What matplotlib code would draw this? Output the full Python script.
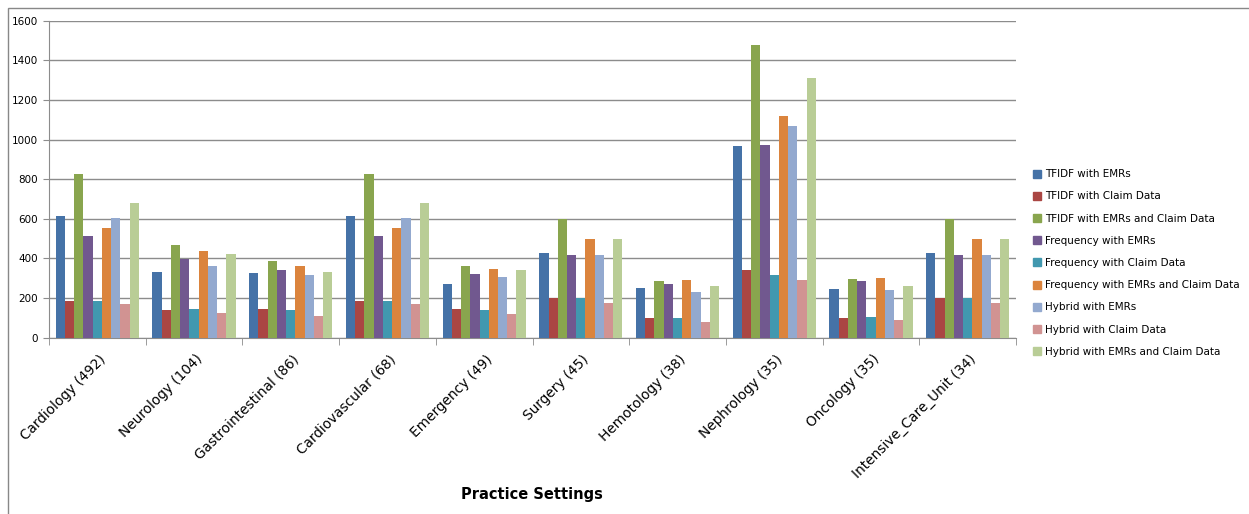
import matplotlib.pyplot as plt
import matplotlib.transforms as mtransforms
import numpy as np
from matplotlib.lines import Line2D
from matplotlib.patches import Rectangle

categories = [
    "Cardiology (492)", "Neurology (104)", "Gastrointestinal (86)", "Cardiovascular (68)",
    "Emergency (49)", "Surgery (45)", "Hemotology (38)", "Nephrology (35)",
    "Oncology (35)", "Intensive_Care_Unit (34)",
]
series_names = [
    "TFIDF with EMRs", "TFIDF with Claim Data", "TFIDF with EMRs and Claim Data",
    "Frequency with EMRs", "Frequency with Claim Data", "Frequency with EMRs and Claim Data",
    "Hybrid with EMRs", "Hybrid with Claim Data", "Hybrid with EMRs and Claim Data",
]
tfidf_emr = [614, 330, 325, 614, 271, 426, 249, 966, 244, 426]
tfidf_claim = [187, 138, 146, 187, 143, 199, 101, 342, 101, 199]
tfidf_both = [828, 468, 387, 828, 360, 599, 284, 1478, 295, 599]
freq_emr = [512, 399, 343, 512, 321, 417, 271, 975, 284, 417]
freq_claim = [187, 143, 138, 187, 138, 199, 98, 315, 106, 199]
freq_both = [552, 438, 362, 552, 347, 498, 290, 1121, 303, 498]
hybrid_emr = [606, 362, 316, 606, 308, 417, 231, 1067, 239, 417]
hybrid_claim = [170, 126, 111, 170, 121, 173, 81, 293, 89, 173]
hybrid_both = [682, 423, 333, 682, 342, 498, 263, 1313, 263, 498]

series = [tfidf_emr, tfidf_claim, tfidf_both, freq_emr, freq_claim,
          freq_both, hybrid_emr, hybrid_claim, hybrid_both]
colors = ["#4572A7", "#AA4643", "#89A54E", "#71588F", "#4198AF",
          "#DB843D", "#93A9CF", "#D19392", "#B9CD96"]

W, H = 1249, 514
fig = plt.figure(figsize=(W / 100, H / 100), dpi=100)
ax = fig.add_axes([49 / W, 1 - 337.7 / H, (1016 - 49) / W, (337.7 - 20.7) / H])

# outer chart border
fig.patches.append(Rectangle((8 / W, -0.1), 1.2, 1 - 8 / H + 0.1, transform=fig.transFigure,
                             fill=False, edgecolor="#888888", linewidth=1))

x = np.arange(len(categories))
n = len(series)
bw = 0.86 / n
for i, (vals, c) in enumerate(zip(series, colors)):
    ax.bar(x - 0.43 + bw * (i + 0.5), vals, width=bw, color=c, linewidth=0, zorder=3)

ax.set_xlim(-0.5, len(categories) - 0.5)
ax.set_ylim(0, 1600)
ax.set_yticks(np.arange(0, 1601, 200))
ax.yaxis.grid(True, color="#8c8c8c", linewidth=1)
ax.set_axisbelow(True)
for s in ["top", "right"]:
    ax.spines[s].set_visible(False)
ax.spines["left"].set_color("#8c8c8c")
ax.spines["bottom"].set_color("#8c8c8c")
ax.tick_params(axis="y", labelsize=7.5, length=4, color="#8c8c8c", pad=4)

ax.set_xticks(x)
ax.set_xticklabels(categories, rotation=45, ha="right", va="center",
                   rotation_mode="anchor", fontsize=9.8)
ax.tick_params(axis="x", length=0, pad=14)
offset = mtransforms.ScaledTranslation(6 / 100, 0, fig.dpi_scale_trans)
for lbl in ax.get_xticklabels():
    lbl.set_transform(lbl.get_transform() + offset)
ax.set_xticks(np.arange(-0.5, len(categories), 1), minor=True)
ax.tick_params(axis="x", which="minor", length=5, color="#8c8c8c")

fig.text(532 / W, 1 - 495 / H, "Practice Settings", ha="center", va="center",
         fontsize=10.5, fontweight="bold")

handles = [Line2D([], [], marker="s", linestyle="none", markersize=5.5,
                  markerfacecolor=c, markeredgecolor=c) for c in colors]
fig.legend(handles, series_names, loc="center left",
           bbox_to_anchor=(1028 / W, 1 - 263 / H), frameon=False, fontsize=7.5,
           labelspacing=1.17, handlelength=0.8, handletextpad=0.3, borderpad=0)

fig.savefig("out.png", dpi=100)
